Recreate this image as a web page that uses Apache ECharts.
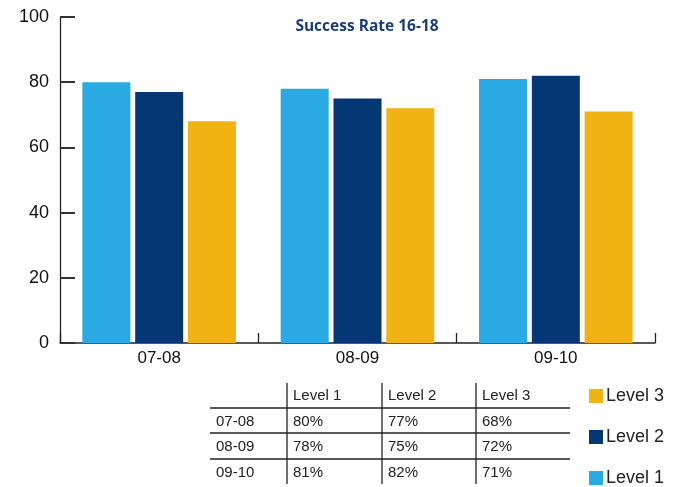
<!DOCTYPE html>
<html>
<head>
<meta charset="utf-8">
<script src="https://cdn.jsdelivr.net/npm/echarts@6/dist/echarts.min.js"></script>
<style>
  html, body { margin: 0; padding: 0; background: #fff; }
  #chart { width: 681px; height: 487px; }
</style>
</head>
<body>
<div id="chart"></div>
<script>
// Academic years and success rates (%) per level
const years = ['07-08', '08-09', '09-10'];
const level1 = [80, 78, 81];
const level2 = [77, 75, 82];
const level3 = [68, 72, 71];
const seriesNames = ['Level 1', 'Level 2', 'Level 3'];
const yTicks = [0, 20, 40, 60, 80, 100];

const colors = ['#29aae2', '#053775', '#efb314'];
const textFont = '"Liberation Sans", Arial, sans-serif';

// Summary table under the chart, built from the same arrays
const tableLeft = 210, tableRight = 570;
const colX = [287, 382, 476];
const headerY = 396;
const rowY = [422, 447, 473];
const lineY = [408, 433, 459];
const tableGraphics = [];
const lineStyle = { stroke: '#222', lineWidth: 1.3 };
lineY.forEach(y => tableGraphics.push({
  type: 'line', shape: { x1: tableLeft, y1: y, x2: tableRight, y2: y }, style: lineStyle
}));
colX.forEach(x => tableGraphics.push({
  type: 'line', shape: { x1: x, y1: 383, x2: x, y2: 484 }, style: lineStyle
}));
const cell = (text, x, y) => ({
  type: 'text', x: x, y: y,
  style: { text: text, fill: '#222', font: '15px ' + textFont, textVerticalAlign: 'middle' }
});
seriesNames.forEach((n, i) => tableGraphics.push(cell(n, colX[i] + 6, headerY)));
const levels = [level1, level2, level3];
years.forEach((yr, r) => {
  tableGraphics.push(cell(yr, 216, rowY[r]));
  levels.forEach((arr, c) => tableGraphics.push(cell(arr[r] + '%', colX[c] + 6, rowY[r])));
});

// Legend drawn as a fixed column: Level 3 on top, Level 1 at the bottom
const legendOrder = ['Level 3', 'Level 2', 'Level 1'];
const legendY = [396, 437, 478];
legendOrder.forEach((name, i) => {
  const idx = seriesNames.indexOf(name);
  tableGraphics.push({
    type: 'rect', shape: { x: 589, y: legendY[i] - 7, width: 14, height: 14 },
    style: { fill: colors[idx] }
  });
  tableGraphics.push({
    type: 'text', x: 606, y: legendY[i],
    style: { text: name, fill: '#222', font: '18px ' + textFont, textVerticalAlign: 'middle' }
  });
});

const chart = echarts.init(document.getElementById('chart'), null, { renderer: 'canvas' });
chart.setOption({
  animation: false,
  color: colors,
  title: {
    text: 'Success Rate 16-18',
    left: 362, top: 14, textAlign: 'center',
    textStyle: { color: '#1c3d78', fontSize: 15.5, fontWeight: 'bold', fontFamily: '"Open Sans", sans-serif' }
  },
  grid: { left: 60, right: 26, top: 17, bottom: 144, containLabel: false, outerBoundsMode: 'none' },
  xAxis: {
    type: 'category',
    data: years,
    axisLine: { lineStyle: { color: '#222', width: 1.5 } },
    axisTick: { show: true, inside: true, length: 10, lineStyle: { color: '#222', width: 1.3 } },
    axisLabel: { fontSize: 17, color: '#111', margin: 7, fontFamily: textFont }
  },
  yAxis: {
    type: 'value',
    min: yTicks[0], max: yTicks[yTicks.length - 1], interval: 20,
    axisLine: { show: true, lineStyle: { color: '#222', width: 1.3 } },
    axisTick: { show: true, inside: true, length: 15, lineStyle: { color: '#333', width: 2 } },
    splitLine: { show: false },
    axisLabel: { fontSize: 18, color: '#111', margin: 11, fontFamily: textFont }
  },
  series: [
    { name: seriesNames[0], type: 'bar', data: level1, barWidth: 48, barGap: '10%' },
    { name: seriesNames[1], type: 'bar', data: level2, barWidth: 48, barGap: '10%' },
    { name: seriesNames[2], type: 'bar', data: level3, barWidth: 48, barGap: '10%' }
  ],
  graphic: tableGraphics
});
</script>
</body>
</html>
